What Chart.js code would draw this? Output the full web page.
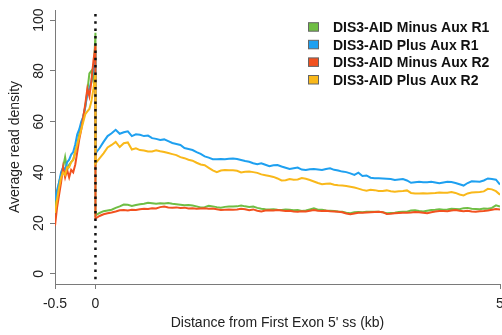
<!DOCTYPE html>
<html>
<head>
<meta charset="utf-8">
<script src="https://cdn.jsdelivr.net/npm/chart.js"></script>
<style>
  html, body { margin: 0; padding: 0; background: #fff; }
  #chart { display: block; }
</style>
</head>
<body>
<canvas id="chart" width="502" height="335"></canvas>
<script>
// distance from the first exon 5' splice site (kb)
const upstreamKb = [-0.5, -0.475, -0.45, -0.425, -0.4, -0.375, -0.35, -0.325, -0.3, -0.275,
  -0.25, -0.225, -0.2, -0.175, -0.15, -0.125, -0.1, -0.075, -0.05, -0.025, 0];
const downstreamKb = [0, 0.05, 0.1, 0.15, 0.2, 0.25, 0.3, 0.35, 0.4, 0.45, 0.5, 0.55, 0.6, 0.65, 0.7,
  0.75, 0.8, 0.85, 0.9, 0.95, 1, 1.05, 1.1, 1.15, 1.2, 1.25, 1.3, 1.35, 1.4, 1.45, 1.5, 1.55, 1.6, 1.65,
  1.7, 1.75, 1.8, 1.85, 1.9, 1.95, 2, 2.05, 2.1, 2.15, 2.2, 2.25, 2.3, 2.35, 2.4, 2.45, 2.5, 2.55, 2.6,
  2.65, 2.7, 2.75, 2.8, 2.85, 2.9, 2.95, 3, 3.05, 3.1, 3.15, 3.2, 3.25, 3.3, 3.35, 3.4, 3.45, 3.5, 3.55,
  3.6, 3.65, 3.7, 3.75, 3.8, 3.85, 3.9, 3.95, 4, 4.05, 4.1, 4.15, 4.2, 4.25, 4.3, 4.35, 4.4, 4.45, 4.5,
  4.55, 4.6, 4.65, 4.7, 4.75, 4.8, 4.85, 4.9, 4.95, 5];

const seriesLabels = ['DIS3-AID Minus Aux R1', 'DIS3-AID Plus Aux R1', 'DIS3-AID Minus Aux R2', 'DIS3-AID Plus Aux R2'];
const seriesColors = ['#6fbe44', '#1ea0f0', '#f2511f', '#f9b81a'];

// average read density, upstream of the splice site
const minusR1Up = [25, 31, 36, 39, 42, 46, 41, 43, 44, 45, 48, 51, 55, 59, 62, 66, 72, 79, 80, 76, 95];
const plusR1Up  = [29, 33, 36, 40, 42, 41, 44, 45, 47, 48, 51, 55, 57, 60, 62, 66, 71, 73, 76, 81, 88];
const minusR2Up = [19, 26, 31, 36, 42, 38, 41, 38, 41, 40, 43, 48, 53, 57, 62, 67, 73, 70, 76, 84, 90];
const plusR2Up  = [24, 29, 34, 38, 40, 39, 42, 42, 44, 45, 48, 51, 54, 57, 60, 63, 64, 65, 68, 73, 79];

// average read density, downstream of the splice site
const minusR1Down = [23, 24, 24.7, 25, 25.3, 26, 26.6, 27.3, 27.2, 26.8, 27.1, 27.4, 27.6, 28, 27.8, 27.6,
  27.8, 27.7, 27.9, 27.6, 27.4, 27.2, 27, 27.1, 26.9, 26.6, 26.2, 26.3, 26.8, 26.6, 26.3, 26.1, 26.4, 26.5,
  26.5, 26.6, 26.9, 26.6, 26.4, 26.5, 26, 25.7, 25.5, 25.4, 25.5, 25.3, 25.2, 25.4, 25.3, 25.1, 25.2, 24.8,
  25, 25.4, 25.8, 25.3, 25.3, 25, 24.9, 24.8, 24.6, 24.5, 24.1, 23.9, 24.3, 24.4, 24.3, 24.5,
  24.5, 24.5, 24.5, 24.3, 23.9, 24, 24.1, 24.4, 24.5, 24.5, 25, 25.1, 24.8, 24.6, 24.9, 25.2, 25.3, 25.5,
  25.3, 25.4, 25.7, 25.6, 25.5, 25.9, 26, 25.7, 25.6, 25.5, 25.8, 25.7, 26, 27, 26.5];
const plusR1Down = [47.5, 49.5, 52, 54.3, 55.4, 56.8, 55.2, 55.8, 56.2, 54.3, 55, 54.8, 54.3, 54.5, 53.5,
  53.2, 52.8, 53, 52.3, 51.6, 51.2, 50.8, 49.6, 49.2, 48.8, 48, 47.3, 46.3, 45.8, 45.2, 45.2, 45.3, 45.2, 45.4,
  45.5, 45.3, 44.9, 44.5, 44.2, 43.6, 43.2, 43.6, 43, 42.4, 42.8, 42.9, 42.3, 41.8, 41.3, 41.6, 41.9, 41.1,
  40.9, 41.2, 41.3, 41.1, 40.9, 41.3, 41.6, 41, 40.7, 40.3, 40.1, 39.6, 39, 39.9, 38.6, 38.8,
  37.9, 37.7, 37.7, 37.6, 37.5, 37.4, 37, 37.2, 37.4, 36.8, 35.9, 36.1, 36.3, 36.1, 36.1, 36.3, 36, 35.7,
  36, 36.3, 36.2, 35.8, 35.3, 34.8, 35.8, 36.5, 36.4, 36.3, 36.8, 37.6, 37.4, 37.1, 35.2];
const minusR2Down = [21.8, 22.8, 23.5, 23.9, 24.2, 24.6, 25.1, 25.2, 25, 25.3, 25.2, 25.5, 25.7, 25.6, 25.9,
  25.8, 26.3, 26.5, 26.2, 26.1, 26.2, 26, 26.1, 25.8, 25.9, 25.7, 25.8, 25.9, 25.7, 25.8, 25.5, 25.2, 25.3, 25.4,
  25.3, 25.4, 25.7, 25.5, 25.1, 25.4, 24.9, 24.6, 25, 25.1, 25, 25.2, 25, 24.8, 24.9, 24.6, 24.5, 24.7,
  24.6, 24.9, 25.2, 24.9, 24.8, 24.9, 24.7, 24.6, 24.5, 24.3, 23.8, 23.5, 23.8, 24.1, 24.1, 24.2,
  24.3, 24.4, 24.5, 24.3, 23.6, 23.7, 23.9, 24, 24.1, 24.1, 24.2, 24.4, 24.3, 24.1, 23.9, 24.3, 24.6, 24.8,
  24.8, 24.7, 25, 25.2, 24.9, 24.7, 24.9, 24.6, 24.5, 24.7, 24.8, 25, 25.3, 25.6, 25.4];
const plusR2Down = [43.5, 45.5, 47.5, 49.8, 50.8, 52, 50, 51.5, 51.8, 49, 49.5, 48.8, 48.6, 48.2, 48.2,
  48.7, 48.3, 48, 47.6, 47.2, 46.8, 46, 45.6, 45, 44.6, 43.8, 43.1, 42.8, 41.8, 40.8, 40.1, 40.7, 40.9, 40.8,
  40.8, 40.6, 40, 40.2, 40.3, 40.1, 39.8, 39.2, 38.9, 38.6, 38.2, 37.6, 36.8, 36.9, 37.4, 37.1, 37.2, 37.8,
  37.5, 37, 36.4, 35.8, 35.3, 35.5, 35.6, 35.1, 34.9, 34.8, 34.6, 34.3, 34, 33.6, 33.1, 32.8,
  33.1, 33, 32.7, 32.7, 32.9, 32.6, 32.4, 32.6, 32.7, 32.9, 31.9, 31.7, 31.7, 31.8, 31.7, 31.8, 31.9, 32.1,
  32, 32, 32.3, 31.9, 31.3, 30.9, 31.7, 32.1, 32.2, 32.3, 32.5, 33.5, 33.3, 32.6, 31.2];

const xTicks = [-0.5, 0, 5];
const yTicks = [0, 20, 40, 60, 80, 100];
const SPLICE_SITE_KB = 0;

const FONT = '"Liberation Sans", Arial, Helvetica, sans-serif';
const TEXT_COLOR = '#222';
const AXIS_GREY = '#7a7a7a';

// upstream + downstream bins as one continuous trace
function toPoints(up, down) {
  const pts = upstreamKb.map((x, i) => ({ x: x, y: up[i] }));
  return pts.concat(downstreamKb.map((x, i) => ({ x: x, y: down[i] })));
}

const allSeries = [
  toPoints(minusR1Up, minusR1Down),
  toPoints(plusR1Up, plusR1Down),
  toPoints(minusR2Up, minusR2Down),
  toPoints(plusR2Up, plusR2Down)
];

const datasets = allSeries.map((pts, i) => ({
  label: seriesLabels[i],
  data: pts,
  borderColor: seriesColors[i],
  backgroundColor: seriesColors[i],
  borderWidth: 2,
  pointRadius: 0,
  tension: 0,
  fill: false,
  order: 3 - i // last series drawn on top
}));

// dotted line marking the splice site
const spliceLinePlugin = {
  id: 'spliceLine',
  afterDatasetsDraw(chart) {
    const { ctx, chartArea, scales } = chart;
    const x = scales.x.getPixelForValue(SPLICE_SITE_KB);
    ctx.save();
    ctx.strokeStyle = '#111';
    ctx.lineWidth = 2.5;
    ctx.setLineDash([2.5, 4.8]);
    ctx.beginPath();
    ctx.moveTo(x, chartArea.top + 4);
    ctx.lineTo(x, chartArea.bottom);
    ctx.stroke();
    ctx.restore();
  }
};

// R-style y labels, rotated to read upwards
const yLabelPlugin = {
  id: 'yLabels',
  afterDraw(chart) {
    const { ctx } = chart;
    const yScale = chart.scales.y;
    ctx.save();
    ctx.font = '14px ' + FONT;
    ctx.fillStyle = TEXT_COLOR;
    ctx.textAlign = 'center';
    ctx.textBaseline = 'alphabetic';
    yTicks.forEach(v => {
      ctx.save();
      ctx.translate(42.5, yScale.getPixelForValue(v));
      ctx.rotate(-Math.PI / 2);
      ctx.fillText(String(v), 0, 0);
      ctx.restore();
    });
    ctx.restore();
  }
};

// legend in the top right corner
const legendPlugin = {
  id: 'cornerLegend',
  afterDraw(chart) {
    const { ctx } = chart;
    ctx.save();
    ctx.font = 'bold 14px ' + FONT;
    ctx.textAlign = 'left';
    ctx.textBaseline = 'alphabetic';
    chart.data.datasets.forEach((ds, i) => {
      const base = 32.2 + i * 17.6;
      ctx.fillStyle = ds.borderColor;
      ctx.fillRect(308.5, base - 9.5, 10, 8.5);
      ctx.strokeStyle = '#666';
      ctx.lineWidth = 1;
      ctx.strokeRect(308.5, base - 9.5, 10, 8.5);
      ctx.fillStyle = '#111';
      ctx.fillText(ds.label, 333, base);
    });
    ctx.restore();
  }
};

new Chart(document.getElementById('chart'), {
  type: 'line',
  data: { datasets: datasets },
  options: {
    responsive: false,
    animation: false,
    devicePixelRatio: 1,
    layout: { padding: { top: 10, right: 2, bottom: 0, left: 0 } },
    plugins: {
      legend: { display: false },
      tooltip: { enabled: false }
    },
    scales: {
      x: {
        type: 'linear',
        min: -0.5,
        max: 5,
        afterBuildTicks: scale => { scale.ticks = xTicks.map(v => ({ value: v })); },
        afterFit: scale => {
          scale.height = 51;
          scale.paddingLeft = 0;
          scale.paddingRight = 0;
        },
        grid: { drawOnChartArea: false, drawTicks: true, tickLength: 5, color: AXIS_GREY },
        border: { display: true, color: AXIS_GREY, width: 1 },
        ticks: {
          autoSkip: false,
          maxRotation: 0,
          padding: 7,
          color: TEXT_COLOR,
          font: { family: FONT, size: 14 },
          callback: v => String(v)
        },
        title: {
          display: true,
          text: "Distance from First Exon 5' ss (kb)",
          color: TEXT_COLOR,
          font: { family: FONT, size: 14 },
          padding: { top: 0, bottom: 3.2 }
        }
      },
      y: {
        type: 'linear',
        min: -4,
        max: 104,
        afterBuildTicks: scale => { scale.ticks = yTicks.map(v => ({ value: v })); },
        afterFit: scale => {
          scale.width = 55;
          scale.paddingTop = 0;
          scale.paddingBottom = 0;
        },
        grid: { drawOnChartArea: false, drawTicks: true, tickLength: 5, color: AXIS_GREY },
        border: { display: true, color: AXIS_GREY, width: 1 },
        ticks: { display: false },
        title: {
          display: true,
          text: 'Average read density',
          color: TEXT_COLOR,
          font: { family: FONT, size: 14 },
          padding: { top: 6.6, bottom: 0 }
        }
      }
    }
  },
  plugins: [spliceLinePlugin, yLabelPlugin, legendPlugin]
});
</script>
</body>
</html>
